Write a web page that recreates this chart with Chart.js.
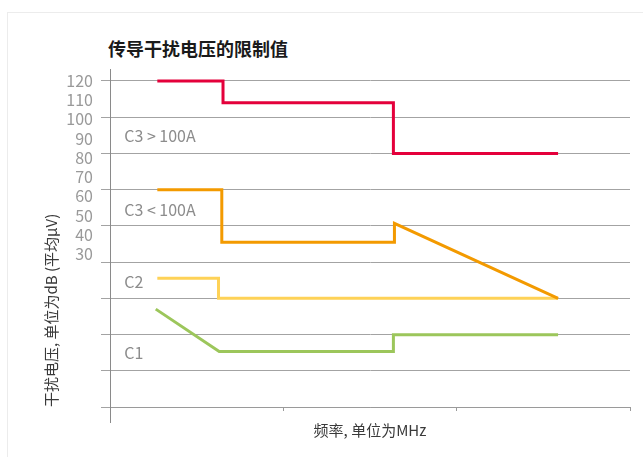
<!DOCTYPE html>
<html lang="zh">
<head>
<meta charset="utf-8">
<title>传导干扰电压的限制值</title>
<script src="https://cdn.jsdelivr.net/npm/chart.js@4.4.1/dist/chart.umd.min.js"></script>
<style>
  html, body { margin: 0; padding: 0; background: #fff; }
  body { width: 643px; height: 457px; position: relative; overflow: hidden;
         font-family: 'Noto Sans CJK SC', 'Noto Sans', sans-serif; }
  .card { position: absolute; left: 7px; top: 12px; width: 660px; height: 470px;
          border: 1px solid #ececec; box-sizing: border-box; }
  .title { position: absolute; left: 108px; top: 37px; font-size: 18px; font-weight: bold;
           color: #1a1a1a; line-height: 22px; white-space: nowrap; }
  canvas { position: absolute; left: 0; top: 0; }
</style>
</head>
<body>
<div class="card"></div>
<div class="title">传导干扰电压的限制值</div>
<canvas id="chart" width="643" height="457"></canvas>
<script>
/* ─── Data ────────────────────────────────────────────── */
const SERIES = ['C3 > 100A', 'C3 < 100A', 'C2', 'C1'];

// frequency (relative units along the x axis) and limit (dB µV)
const C3_HIGH_X  = [0.273, 0.652, 0.652, 1.635, 1.635, 2.585];
const C3_HIGH_DB = [120, 120, 108.6, 108.6, 82.3, 82.3];
const C3_LOW_X   = [0.273, 0.645, 0.645, 1.641, 1.641, 2.585];
const C3_LOW_DB  = [63.5, 63.5, 36.1, 36.1, 46.0, 7.0];
const C2_X       = [0.273, 0.626, 0.626, 2.585];
const C2_DB      = [17.4, 17.4, 7.0, 7.0];
const C1_X       = [0.264, 0.630, 1.635, 1.635, 2.585];
const C1_DB      = [1.4, -20.6, -20.6, -11.9, -11.9];

const Y_LABELS = [120, 110, 100, 90, 80, 70, 60, 50, 40, 30];
const X_TICKS  = [0, 1, 2, 3];
const GRID_DB  = 18.83;     // spacing of the horizontal rules
const GRID_COUNT = 9;

const COLORS = ['#e4003b', '#f39a00', '#fed257', '#9cc65b'];

const pts = (xs, ys) => xs.map((x, i) => ({ x, y: ys[i] }));
const gridValues = Array.from({ length: GRID_COUNT + 1 }, (_, k) => 120 - k * GRID_DB);
const isGrid = v => gridValues.some(g => Math.abs(g - v) < 1e-6);
const isLabel = v => Y_LABELS.includes(v);

const FONT = "'Noto Sans CJK SC', 'Noto Sans', sans-serif";
Chart.defaults.font.family = FONT;
Chart.defaults.animation = false;

/* ─── Small plugins ───────────────────────────────────── */
const seriesLabels = {
  id: 'seriesLabels',
  afterDatasetsDraw(chart, args, opts) {
    const { ctx, scales: { x, y } } = chart;
    ctx.save();
    ctx.font = opts.size + 'px ' + FONT;
    ctx.fillStyle = opts.color;
    ctx.textAlign = 'left';
    ctx.textBaseline = 'middle';
    chart.data.datasets.forEach((ds, i) => {
      const a = opts.at[i];
      ctx.fillText(ds.label, x.getPixelForValue(a[0]), y.getPixelForValue(a[1]));
    });
    ctx.restore();
  }
};

const axisTail = {
  id: 'axisTail',
  afterDraw(chart, args, opts) {
    const { ctx, chartArea } = chart;
    const px = Math.round(chartArea.left - 0.5) + 0.5;
    ctx.save();
    ctx.strokeStyle = opts.color;
    ctx.lineWidth = 1;
    ctx.beginPath();
    ctx.moveTo(px, chartArea.bottom);
    ctx.lineTo(px, chartArea.bottom + opts.length);
    ctx.stroke();
    ctx.restore();
  }
};

/* ─── Chart ───────────────────────────────────────────── */
const line = (i, data) => ({
  label: SERIES[i],
  data,
  borderColor: COLORS[i],
  borderWidth: 3,
  pointRadius: 0,
  tension: 0,
  fill: false,
  borderJoinStyle: 'miter',
  borderCapStyle: 'butt'
});

new Chart(document.getElementById('chart'), {
  type: 'line',
  data: {
    datasets: [
      line(0, pts(C3_HIGH_X, C3_HIGH_DB)),
      line(1, pts(C3_LOW_X, C3_LOW_DB)),
      line(2, pts(C2_X, C2_DB)),
      line(3, pts(C1_X, C1_DB))
    ]
  },
  plugins: [seriesLabels, axisTail],
  options: {
    responsive: false,
    layout: { padding: { top: 69, right: 13, bottom: 0, left: 0 } },
    plugins: {
      legend: { display: false },
      tooltip: { enabled: false },
      seriesLabels: {
        size: 16, color: '#8c8c8c',
        at: [[0.082, 91.2], [0.082, 53.0], [0.082, 15.7], [0.082, -21.5]]
      },
      axisTail: { color: '#8a8a8a', length: 16 }
    },
    scales: {
      x: {
        type: 'linear',
        min: X_TICKS[0], max: X_TICKS[X_TICKS.length - 1],
        afterBuildTicks: s => { s.ticks = X_TICKS.map(v => ({ value: v })); },
        afterFit: s => { s.height = 50; },
        ticks: { display: false },
        grid: { drawOnChartArea: false, drawTicks: true, tickLength: 4, color: '#9a9a9a' },
        border: { color: '#9a9a9a' },
        title: {
          display: true, text: '频率, 单位为MHz', color: '#3a3a3a',
          font: { size: 15 }, padding: { top: 0, bottom: 18 }
        }
      },
      y: {
        type: 'linear',
        min: 120 - GRID_COUNT * GRID_DB, max: 126.2,
        afterBuildTicks: s => {
          const vals = Array.from(new Set([...Y_LABELS, ...gridValues])).sort((a, b) => a - b);
          s.ticks = vals.map(v => ({ value: v }));
        },
        afterFit: s => { s.width = 110; },
        ticks: {
          autoSkip: false, padding: 8, color: '#999999', font: { size: 16 },
          callback: v => isLabel(v) ? String(v) : ''
        },
        grid: {
          tickLength: 9, lineWidth: 1,
          color: c => (c.tick && isGrid(c.tick.value)) ? '#a3a3a3' : 'rgba(0,0,0,0)'
        },
        border: { color: '#8a8a8a' },
        title: {
          display: true, text: '干扰电压, 单位为dB (平均μV)', align: 'start', color: '#3a3a3a',
          font: { size: 15 }, padding: { top: 42, bottom: 0 }
        }
      }
    }
  }
});
</script>
</body>
</html>
